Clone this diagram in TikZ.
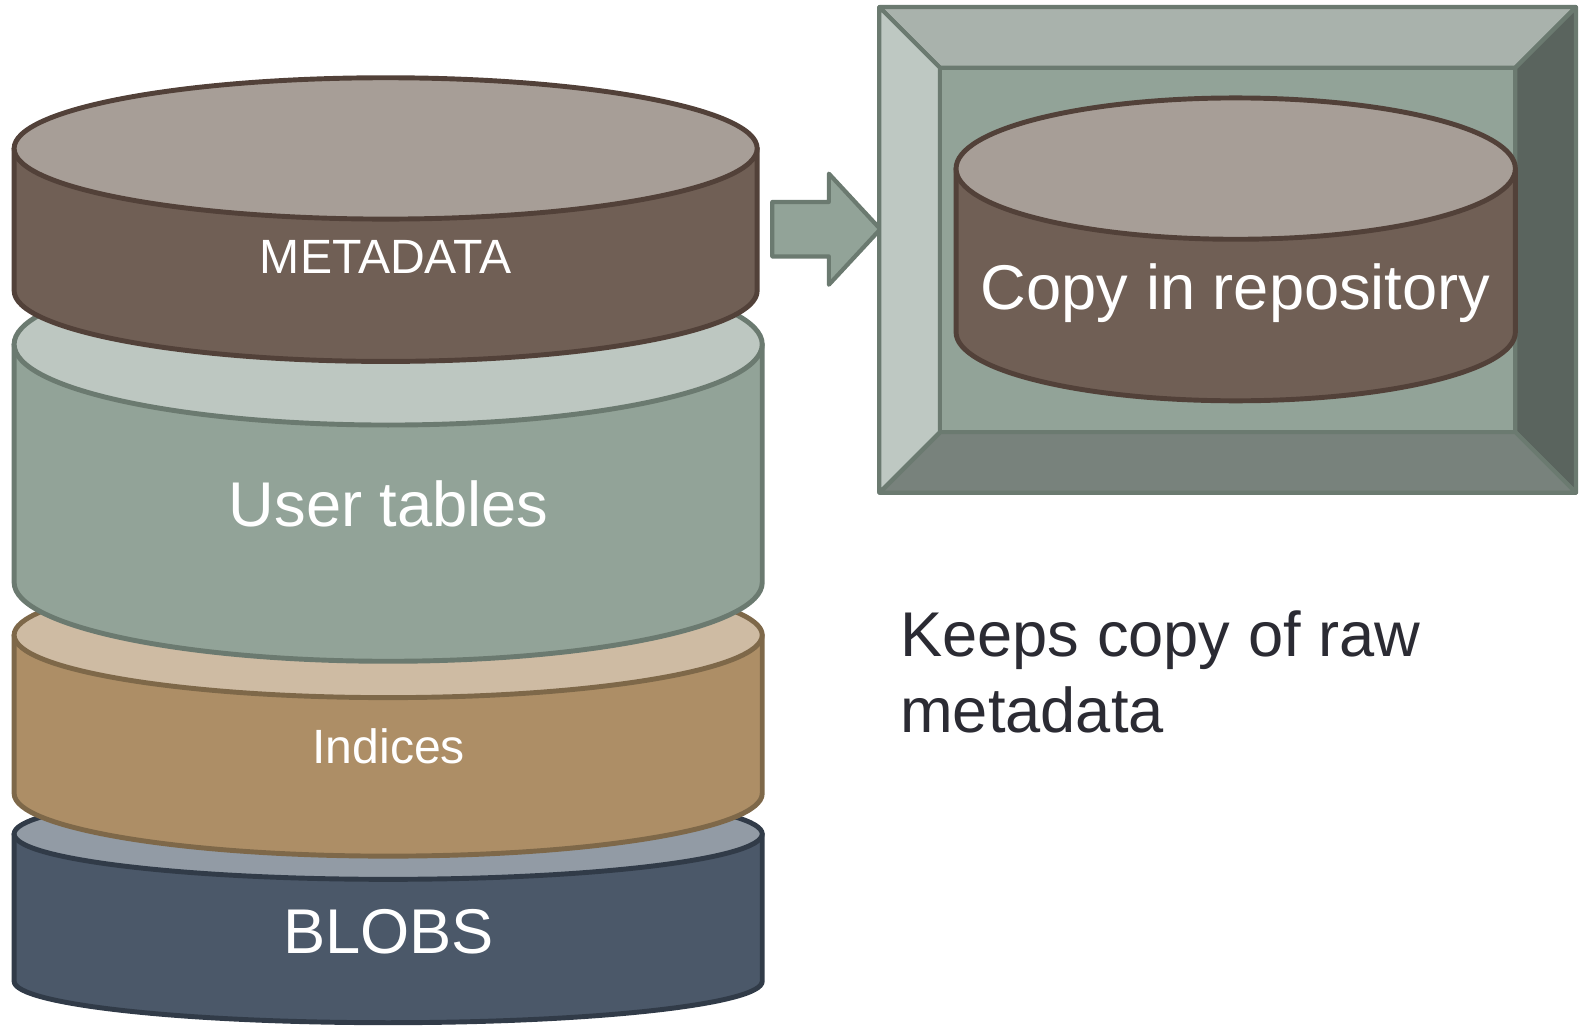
\documentclass[tikz,border=0pt]{standalone}
\usepackage{fontspec}
\setmainfont{Liberation Sans}
\usepackage{xcolor}
\usepackage{tikz}
\usetikzlibrary{calc}

\definecolor{metaside}{HTML}{705F55}
\definecolor{metatop}{HTML}{A79E97}
\definecolor{metaline}{HTML}{524139}
\definecolor{userside}{HTML}{92A398}
\definecolor{usertop}{HTML}{BDC7C1}
\definecolor{userline}{HTML}{6B7A70}
\definecolor{idxside}{HTML}{AD8E66}
\definecolor{idxtop}{HTML}{CEBBA3}
\definecolor{idxline}{HTML}{7E6849}
\definecolor{blobside}{HTML}{4B5869}
\definecolor{blobtop}{HTML}{929BA5}
\definecolor{blobline}{HTML}{313B48}
\definecolor{bevtop}{HTML}{A9B2AC}
\definecolor{bevleft}{HTML}{BEC8C2}
\definecolor{bevright}{HTML}{5A645E}
\definecolor{bevbottom}{HTML}{78827C}
\definecolor{notetext}{HTML}{2B2B33}

% drum: centre x, x radius, top y, top y radius, bottom y, bottom y radius, side, top, line
\newcommand{\dbdrum}[9]{%
  \filldraw[fill=#7,draw=#9,line width=1.4pt,line join=round]
    (#1-#2,#3) -- (#1-#2,#5) arc[start angle=180,end angle=0,x radius=#2,y radius=#6]
    -- (#1+#2,#3) -- cycle;
  \filldraw[fill=#8,draw=#9,line width=1.4pt] (#1,#3) ellipse[x radius=#2,y radius=#4];
}

\tikzset{
  biglabel/.style={text=white,font=\fontsize{18}{21.6}\selectfont,anchor=base,inner sep=0pt},
  smalllabel/.style={text=white,font=\fontsize{13.7}{16.4}\selectfont,anchor=base,inner sep=0pt},
  bevel/.style={draw=userline,line width=1.2pt,line join=round}
}

\begin{document}
\begin{tikzpicture}[x=0.010096cm,y=-0.010096cm]
		\useasboundingbox (0,0) rectangle (1568,1016);
		% the stack, bottom first
		\dbdrum{384.5}{370.5}{826}{45}{972}{41}{blobside}{blobtop}{blobline}
		\dbdrum{384.5}{370.5}{629}{62}{786}{62}{idxside}{idxtop}{idxline}
		\dbdrum{384.5}{370.5}{341}{80}{577}{78}{userside}{usertop}{userline}
		\dbdrum{382}{368}{147}{70}{288}{70}{metaside}{metatop}{metaline}
		\node[smalllabel] (metadata) at (382,271) {METADATA};
		\node[biglabel] (usertables) at (385,521) {User tables};
		\node[smalllabel] (indices) at (385,756) {Indices};
		\node[biglabel] (blobs) at (385,944) {BLOBS};
		% arrow
		\filldraw[fill=userside,bevel] (765,200) -- (821,200) -- (821,172) -- (872,227)
			-- (821,282) -- (821,254) -- (765,254) -- cycle;
		% repository frame
		\coordinate (o1) at (871,7);
		\coordinate (o2) at (1561,7);
		\coordinate (o3) at (1561,488);
		\coordinate (o4) at (871,488);
		\coordinate (i1) at (931,67);
		\coordinate (i2) at (1501,67);
		\coordinate (i3) at (1501,428);
		\coordinate (i4) at (931,428);
		\filldraw[fill=bevtop,bevel] (o1) -- (o2) -- (i2) -- (i1) -- cycle;
		\filldraw[fill=bevright,bevel] (o2) -- (o3) -- (i3) -- (i2) -- cycle;
		\filldraw[fill=bevbottom,bevel] (o3) -- (o4) -- (i4) -- (i3) -- cycle;
		\filldraw[fill=bevleft,bevel] (o4) -- (o1) -- (i1) -- (i4) -- cycle;
		\filldraw[fill=userside,bevel] (i1) rectangle (i3);
		\dbdrum{1224}{277}{167}{70}{329}{68}{metaside}{metatop}{metaline}
		\node[biglabel] (copyrepo) at (1224,307) {Copy in repository};
		% note
		\node[anchor=north west,inner sep=0pt,align=left,text=notetext,
			font=\fontsize{18}{21.6}\selectfont] (note) at (891,604) {Keeps copy of raw\\metadata};
	\end{tikzpicture}
\end{document}
